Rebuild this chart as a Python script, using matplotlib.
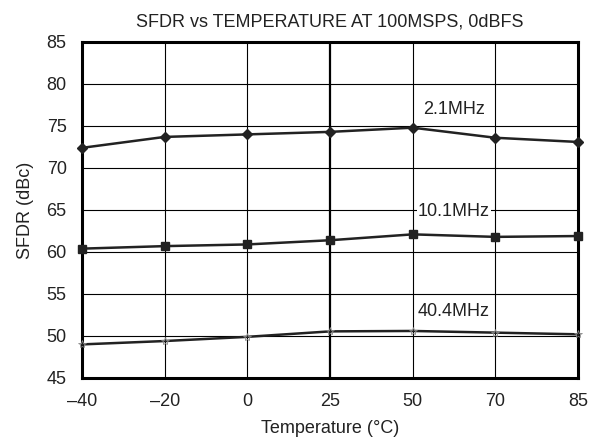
import numpy as np
import matplotlib.pyplot as plt

plt.rcParams['font.family'] = ['Liberation Sans', 'DejaVu Sans']

# ---------------------------------------------------------------------------
# Data
# ---------------------------------------------------------------------------
temps = ['\u201340', '\u201320', '0', '25', '50', '70', '85']
sfdr_2p1 = [72.4, 73.7, 74.0, 74.3, 74.8, 73.6, 73.1]
sfdr_10p1 = [60.4, 60.7, 60.9, 61.4, 62.1, 61.8, 61.9]
sfdr_40p4 = [49.0, 49.4, 49.9, 50.55, 50.6, 50.4, 50.2]
yticks = [45, 50, 55, 60, 65, 70, 75, 80, 85]

xpos = np.arange(len(temps))

fig = plt.figure(figsize=(6.04, 4.45), dpi=100)
ax = fig.add_axes([82 / 604, 1 - 378 / 445, 496 / 604, 336 / 445])

ax.set_xlim(xpos[0], xpos[-1])
ax.set_ylim(45, 85)
ax.set_xticks(xpos)
ax.set_xticklabels(temps)
ax.set_yticks(yticks)

# grid, with the 25 degC line drawn heavier
for y in yticks[1:-1]:
    ax.axhline(y, color='black', lw=0.8, zorder=1)
for i in xpos[1:-1]:
    ax.axvline(i, color='black', lw=1.6 if temps[i] == '25' else 0.8, zorder=1)

line_col = '#222222'
ax.plot(xpos, sfdr_2p1, color=line_col, lw=1.8, marker='D', ms=5, zorder=3,
        clip_on=False)
ax.plot(xpos, sfdr_10p1, color=line_col, lw=1.8, marker='s', ms=6, zorder=3,
        clip_on=False)
ax.plot(xpos, sfdr_40p4, color=line_col, lw=1.8, marker='*', ms=6,
        mfc='none', mec='#888888', mew=0.6, zorder=3, clip_on=False)

label_kw = dict(ha='center', va='center', fontsize=13, color='#222222')
ax.text(4.5, 77.0, '2.1MHz', **label_kw)
ax.text(4.5, 64.8, '10.1MHz', bbox=dict(fc='white', ec='none', pad=1), zorder=2, **label_kw)
ax.text(4.5, 52.9, '40.4MHz', bbox=dict(fc='white', ec='none', pad=1), zorder=2, **label_kw)

for sp in ax.spines.values():
    sp.set_linewidth(2.2)
ax.tick_params(length=0, labelsize=13, pad=11, colors='#222222')

ax.set_title('SFDR vs TEMPERATURE AT 100MSPS, 0dBFS', fontsize=13, pad=11, color='#222222')
ax.set_xlabel('Temperature (\u00b0C)', fontsize=13, labelpad=7, color='#222222')
ax.set_ylabel('SFDR (dBc)', fontsize=13, labelpad=9, color='#222222')

fig.savefig('out.png', dpi=100)
